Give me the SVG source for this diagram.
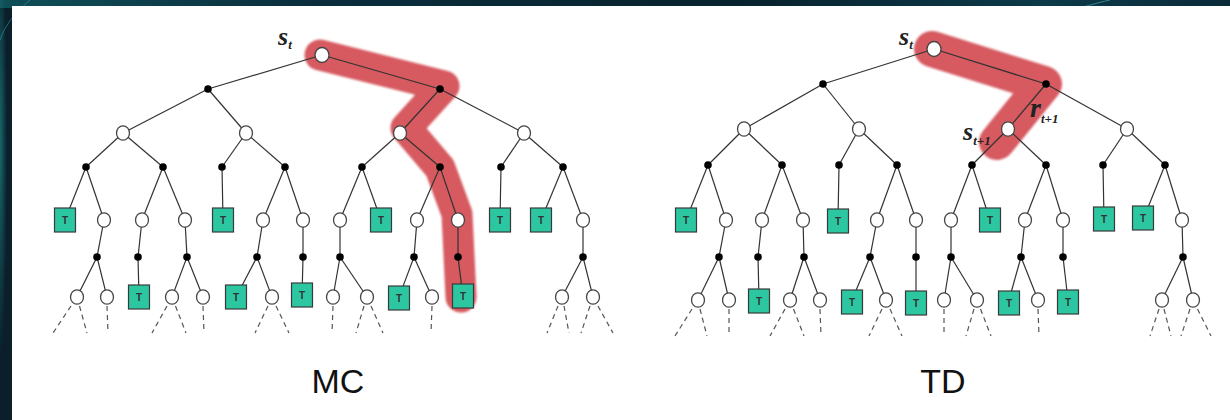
<svg xmlns="http://www.w3.org/2000/svg" width="1230" height="420" viewBox="0 0 1230 420">
<defs>
<linearGradient id="bgTop" x1="0" y1="0" x2="1" y2="0">
<stop offset="0" stop-color="#0f4f58"/>
<stop offset="0.25" stop-color="#0a2e3c"/>
<stop offset="0.6" stop-color="#08212e"/>
<stop offset="0.85" stop-color="#0c3a48"/>
<stop offset="1" stop-color="#0a2a38"/>
</linearGradient>
<radialGradient id="glow" cx="0" cy="0.35" r="0.5">
<stop offset="0" stop-color="#1b7a80" stop-opacity="0.8"/>
<stop offset="1" stop-color="#1b7a80" stop-opacity="0"/>
</radialGradient>
<filter id="soft" x="-10%" y="-10%" width="120%" height="120%"><feGaussianBlur stdDeviation="0.9"/></filter>
<style>
.e{stroke:#333;stroke-width:1.2;fill:none}
.d{stroke:#555;stroke-width:1.2;stroke-dasharray:5 4;fill:none}
.w{fill:#fff;stroke:#444;stroke-width:1.3}
.b{fill:#000}
.t{fill:#2cc7a1;stroke:#3a3a3a;stroke-width:1.2}
.tt{font-family:"Liberation Sans",Arial,sans-serif;font-size:10px;font-weight:bold;fill:#333;text-anchor:middle}
.hl{fill:none;stroke:#d65a60;stroke-linecap:round;stroke-linejoin:round}
.lab{font-family:"Liberation Serif","Times New Roman",serif;font-style:italic;font-weight:bold;fill:#222}
.cap{font-family:"Liberation Sans",Arial,sans-serif;font-size:34px;fill:#111;text-anchor:middle}
</style>
</defs>
<rect width="1230" height="420" fill="#0a1f2a"/>
<rect width="1230" height="8" fill="url(#bgTop)"/>
<rect width="14" height="420" fill="url(#glow)"/>
<path d="M0,40 Q6,20 30,0" stroke="#3fb7c0" stroke-width="0.8" fill="none" opacity="0.6"/>
<path d="M1080,8 Q1100,2 1110,0" stroke="#4fc3cc" stroke-width="0.8" fill="none" opacity="0.7"/>
<rect x="12" y="6" width="1218" height="414" fill="#fff"/>

<g id="highlights" filter="url(#soft)">
<path class="hl" stroke-width="31" d="M320,55 L444,86 L406,128 L440,168 L457,214 L461,297"/>
<path class="hl" stroke-width="36" d="M932,49 L1044,84 L997,142"/>
</g>

<g id="connectors">
<g id="mc-edges">
<line class="e" x1="322" y1="55" x2="208" y2="89"/><line class="e" x1="322" y1="55" x2="440" y2="89"/>
<line class="e" x1="208" y1="89" x2="123" y2="133"/><line class="e" x1="208" y1="89" x2="246" y2="133"/>
<line class="e" x1="440" y1="89" x2="400" y2="133"/><line class="e" x1="440" y1="89" x2="524" y2="133"/>
<line class="e" x1="123" y1="133" x2="86" y2="167"/><line class="e" x1="123" y1="133" x2="163" y2="167"/>
<line class="e" x1="246" y1="133" x2="222" y2="167"/><line class="e" x1="246" y1="133" x2="285" y2="167"/>
<line class="e" x1="400" y1="133" x2="362" y2="167"/><line class="e" x1="400" y1="133" x2="440" y2="167"/>
<line class="e" x1="524" y1="133" x2="501" y2="167"/><line class="e" x1="524" y1="133" x2="563" y2="167"/>
<line class="e" x1="86" y1="167" x2="65" y2="220"/><line class="e" x1="86" y1="167" x2="104" y2="220"/>
<line class="e" x1="163" y1="167" x2="142" y2="220"/><line class="e" x1="163" y1="167" x2="185" y2="220"/>
<line class="e" x1="222" y1="167" x2="223" y2="220"/>
<line class="e" x1="285" y1="167" x2="263" y2="220"/><line class="e" x1="285" y1="167" x2="303" y2="220"/>
<line class="e" x1="362" y1="167" x2="340" y2="220"/><line class="e" x1="362" y1="167" x2="381" y2="220"/>
<line class="e" x1="440" y1="167" x2="417" y2="220"/><line class="e" x1="440" y1="167" x2="458" y2="220"/>
<line class="e" x1="501" y1="167" x2="500" y2="220"/>
<line class="e" x1="563" y1="167" x2="541" y2="220"/><line class="e" x1="563" y1="167" x2="583" y2="220"/>
<line class="e" x1="104" y1="220" x2="97" y2="257"/><line class="e" x1="142" y1="220" x2="138" y2="257"/>
<line class="e" x1="185" y1="220" x2="187" y2="257"/><line class="e" x1="263" y1="220" x2="257" y2="257"/>
<line class="e" x1="303" y1="220" x2="303" y2="257"/><line class="e" x1="340" y1="220" x2="340" y2="257"/>
<line class="e" x1="417" y1="220" x2="414" y2="257"/><line class="e" x1="458" y1="220" x2="458" y2="257"/>
<line class="e" x1="583" y1="220" x2="583" y2="257"/>
<line class="e" x1="97" y1="257" x2="77" y2="297"/><line class="e" x1="97" y1="257" x2="107" y2="297"/>
<line class="e" x1="138" y1="257" x2="139" y2="297"/>
<line class="e" x1="187" y1="257" x2="172" y2="297"/><line class="e" x1="187" y1="257" x2="203" y2="297"/>
<line class="e" x1="257" y1="257" x2="236" y2="297"/><line class="e" x1="257" y1="257" x2="272" y2="297"/>
<line class="e" x1="303" y1="257" x2="302" y2="297"/>
<line class="e" x1="340" y1="257" x2="333" y2="297"/><line class="e" x1="340" y1="257" x2="367" y2="297"/>
<line class="e" x1="414" y1="257" x2="399" y2="297"/><line class="e" x1="414" y1="257" x2="432" y2="297"/>
<line class="e" x1="458" y1="257" x2="463" y2="297"/>
<line class="e" x1="583" y1="257" x2="562" y2="297"/><line class="e" x1="583" y1="257" x2="593" y2="297"/>
<line class="d" x1="71" y1="306" x2="53" y2="333"/><line class="d" x1="79.5" y1="306" x2="87" y2="333"/>
<line class="d" x1="107" y1="306" x2="108" y2="333"/>
<line class="d" x1="167" y1="306" x2="152" y2="333"/><line class="d" x1="175.5" y1="306" x2="186" y2="333"/>
<line class="d" x1="203" y1="306" x2="204" y2="333"/>
<line class="d" x1="268" y1="306" x2="255" y2="333"/><line class="d" x1="276" y1="306" x2="289" y2="333"/>
<line class="d" x1="333" y1="306" x2="332" y2="333"/>
<line class="d" x1="364" y1="306" x2="356" y2="333"/><line class="d" x1="371" y1="306" x2="383" y2="333"/>
<line class="d" x1="432" y1="306" x2="431" y2="333"/>
<line class="d" x1="558" y1="306" x2="547" y2="333"/><line class="d" x1="564" y1="306" x2="569" y2="333"/>
<line class="d" x1="590" y1="306" x2="581" y2="333"/><line class="d" x1="598" y1="306" x2="613" y2="333"/>
</g>
<g id="td-edges">
<line class="e" x1="934" y1="49" x2="823" y2="84"/><line class="e" x1="934" y1="49" x2="1046" y2="84"/>
<line class="e" x1="823" y1="84" x2="744" y2="129"/><line class="e" x1="823" y1="84" x2="859" y2="129"/>
<line class="e" x1="1046" y1="84" x2="1008" y2="129"/><line class="e" x1="1046" y1="84" x2="1127" y2="129"/>
<line class="e" x1="744" y1="129" x2="708" y2="165"/><line class="e" x1="744" y1="129" x2="782" y2="165"/>
<line class="e" x1="859" y1="129" x2="839" y2="165"/><line class="e" x1="859" y1="129" x2="897" y2="165"/>
<line class="e" x1="1008" y1="129" x2="972" y2="165"/><line class="e" x1="1008" y1="129" x2="1046" y2="165"/>
<line class="e" x1="1127" y1="129" x2="1103" y2="165"/><line class="e" x1="1127" y1="129" x2="1165" y2="165"/>
<line class="e" x1="708" y1="165" x2="686" y2="220"/><line class="e" x1="708" y1="165" x2="726" y2="220"/>
<line class="e" x1="782" y1="165" x2="762" y2="220"/><line class="e" x1="782" y1="165" x2="803" y2="220"/>
<line class="e" x1="839" y1="165" x2="838" y2="220"/>
<line class="e" x1="897" y1="165" x2="877" y2="220"/><line class="e" x1="897" y1="165" x2="916" y2="220"/>
<line class="e" x1="972" y1="165" x2="951" y2="220"/><line class="e" x1="972" y1="165" x2="990" y2="220"/>
<line class="e" x1="1046" y1="165" x2="1025" y2="220"/><line class="e" x1="1046" y1="165" x2="1063" y2="220"/>
<line class="e" x1="1103" y1="165" x2="1104" y2="220"/>
<line class="e" x1="1165" y1="165" x2="1143" y2="220"/><line class="e" x1="1165" y1="165" x2="1182" y2="220"/>
<line class="e" x1="726" y1="220" x2="719" y2="257"/><line class="e" x1="762" y1="220" x2="758" y2="257"/>
<line class="e" x1="803" y1="220" x2="804" y2="257"/><line class="e" x1="877" y1="220" x2="870" y2="257"/>
<line class="e" x1="916" y1="220" x2="916" y2="257"/><line class="e" x1="951" y1="220" x2="951" y2="257"/>
<line class="e" x1="1025" y1="220" x2="1021" y2="257"/><line class="e" x1="1063" y1="220" x2="1063" y2="257"/>
<line class="e" x1="1182" y1="220" x2="1183" y2="257"/>
<line class="e" x1="719" y1="257" x2="698" y2="300"/><line class="e" x1="719" y1="257" x2="729" y2="300"/>
<line class="e" x1="758" y1="257" x2="759" y2="300"/>
<line class="e" x1="804" y1="257" x2="790" y2="300"/><line class="e" x1="804" y1="257" x2="820" y2="300"/>
<line class="e" x1="870" y1="257" x2="852" y2="300"/><line class="e" x1="870" y1="257" x2="886" y2="300"/>
<line class="e" x1="916" y1="257" x2="916" y2="300"/>
<line class="e" x1="951" y1="257" x2="944" y2="300"/><line class="e" x1="951" y1="257" x2="977" y2="300"/>
<line class="e" x1="1021" y1="257" x2="1009" y2="300"/><line class="e" x1="1021" y1="257" x2="1038" y2="300"/>
<line class="e" x1="1063" y1="257" x2="1068" y2="300"/>
<line class="e" x1="1183" y1="257" x2="1162" y2="300"/><line class="e" x1="1183" y1="257" x2="1193" y2="300"/>
<line class="d" x1="692" y1="309" x2="675" y2="336"/><line class="d" x1="700" y1="309" x2="707" y2="336"/>
<line class="d" x1="729" y1="309" x2="729" y2="336"/>
<line class="d" x1="785" y1="309" x2="770" y2="336"/><line class="d" x1="793.5" y1="309" x2="804" y2="336"/>
<line class="d" x1="820" y1="309" x2="821" y2="336"/>
<line class="d" x1="882" y1="309" x2="869" y2="336"/><line class="d" x1="890" y1="309" x2="902" y2="336"/>
<line class="d" x1="944" y1="309" x2="944" y2="336"/>
<line class="d" x1="974" y1="309" x2="966" y2="336"/><line class="d" x1="980.5" y1="309" x2="991" y2="336"/>
<line class="d" x1="1038" y1="309" x2="1039" y2="336"/>
<line class="d" x1="1159" y1="309" x2="1150" y2="336"/><line class="d" x1="1164" y1="309" x2="1171" y2="336"/>
<line class="d" x1="1190" y1="309" x2="1181" y2="336"/><line class="d" x1="1197.5" y1="309" x2="1211" y2="336"/>
</g>
</g>

<g id="mc-nodes">
<g id="mc-root"><ellipse class="w" cx="322" cy="55" rx="7" ry="7.5"/></g>
<g id="mc-a1"><circle class="b" cx="208" cy="89" r="3.8"/></g>
<g id="mc-a2"><circle class="b" cx="440" cy="89" r="3.8"/></g>
<g id="mc-s1"><ellipse class="w" cx="123" cy="133" rx="6.5" ry="7.2"/></g>
<g id="mc-s2"><ellipse class="w" cx="246" cy="133" rx="6.5" ry="7.2"/></g>
<g id="mc-s3"><ellipse class="w" cx="400" cy="133" rx="6.5" ry="7.2"/></g>
<g id="mc-s4"><ellipse class="w" cx="524" cy="133" rx="6.5" ry="7.2"/></g>
<g id="mc-b1"><circle class="b" cx="86" cy="167" r="3.8"/></g>
<g id="mc-b2"><circle class="b" cx="163" cy="167" r="3.8"/></g>
<g id="mc-b3"><circle class="b" cx="222" cy="167" r="3.8"/></g>
<g id="mc-b4"><circle class="b" cx="285" cy="167" r="3.8"/></g>
<g id="mc-b5"><circle class="b" cx="362" cy="167" r="3.8"/></g>
<g id="mc-b6"><circle class="b" cx="440" cy="167" r="3.8"/></g>
<g id="mc-b7"><circle class="b" cx="501" cy="167" r="3.8"/></g>
<g id="mc-b8"><circle class="b" cx="563" cy="167" r="3.8"/></g>
<g id="mc-c1"><rect class="t" x="54.5" y="208" width="21" height="24"/><text class="tt" x="65" y="224">T</text></g>
<g id="mc-c2"><ellipse class="w" cx="104" cy="220" rx="6.5" ry="7.2"/></g>
<g id="mc-c3"><ellipse class="w" cx="142" cy="220" rx="6.5" ry="7.2"/></g>
<g id="mc-c4"><ellipse class="w" cx="185" cy="220" rx="6.5" ry="7.2"/></g>
<g id="mc-c5"><rect class="t" x="212.5" y="208" width="21" height="24"/><text class="tt" x="223" y="224">T</text></g>
<g id="mc-c6"><ellipse class="w" cx="263" cy="220" rx="6.5" ry="7.2"/></g>
<g id="mc-c7"><ellipse class="w" cx="303" cy="220" rx="6.5" ry="7.2"/></g>
<g id="mc-c8"><ellipse class="w" cx="340" cy="220" rx="6.5" ry="7.2"/></g>
<g id="mc-c9"><rect class="t" x="370.5" y="208" width="21" height="24"/><text class="tt" x="381" y="224">T</text></g>
<g id="mc-c10"><ellipse class="w" cx="417" cy="220" rx="6.5" ry="7.2"/></g>
<g id="mc-c11"><ellipse class="w" cx="458" cy="220" rx="6.5" ry="7.2"/></g>
<g id="mc-c12"><rect class="t" x="489.5" y="208" width="21" height="24"/><text class="tt" x="500" y="224">T</text></g>
<g id="mc-c13"><rect class="t" x="530.5" y="208" width="21" height="24"/><text class="tt" x="541" y="224">T</text></g>
<g id="mc-c14"><ellipse class="w" cx="583" cy="220" rx="6.5" ry="7.2"/></g>
<g id="mc-d1"><circle class="b" cx="97" cy="257" r="3.8"/></g>
<g id="mc-d2"><circle class="b" cx="138" cy="257" r="3.8"/></g>
<g id="mc-d3"><circle class="b" cx="187" cy="257" r="3.8"/></g>
<g id="mc-d4"><circle class="b" cx="257" cy="257" r="3.8"/></g>
<g id="mc-d5"><circle class="b" cx="303" cy="257" r="3.8"/></g>
<g id="mc-d6"><circle class="b" cx="340" cy="257" r="3.8"/></g>
<g id="mc-d7"><circle class="b" cx="414" cy="257" r="3.8"/></g>
<g id="mc-d8"><circle class="b" cx="458" cy="257" r="3.8"/></g>
<g id="mc-d9"><circle class="b" cx="583" cy="257" r="3.8"/></g>
<g id="mc-e1"><ellipse class="w" cx="77" cy="297" rx="6.5" ry="7.2"/></g>
<g id="mc-e2"><ellipse class="w" cx="107" cy="297" rx="6.5" ry="7.2"/></g>
<g id="mc-e3"><rect class="t" x="128.5" y="285" width="21" height="24"/><text class="tt" x="139" y="301">T</text></g>
<g id="mc-e4"><ellipse class="w" cx="172" cy="297" rx="6.5" ry="7.2"/></g>
<g id="mc-e5"><ellipse class="w" cx="203" cy="297" rx="6.5" ry="7.2"/></g>
<g id="mc-e6"><rect class="t" x="225.5" y="285" width="21" height="24"/><text class="tt" x="236" y="301">T</text></g>
<g id="mc-e7"><ellipse class="w" cx="272" cy="297" rx="6.5" ry="7.2"/></g>
<g id="mc-e8"><rect class="t" x="291.5" y="283" width="21" height="24"/><text class="tt" x="302" y="299">T</text></g>
<g id="mc-e9"><ellipse class="w" cx="333" cy="297" rx="6.5" ry="7.2"/></g>
<g id="mc-e10"><ellipse class="w" cx="367" cy="297" rx="6.5" ry="7.2"/></g>
<g id="mc-e11"><rect class="t" x="388.5" y="286" width="21" height="24"/><text class="tt" x="399" y="302">T</text></g>
<g id="mc-e12"><ellipse class="w" cx="432" cy="297" rx="6.5" ry="7.2"/></g>
<g id="mc-e13"><rect class="t" x="452.5" y="284" width="21" height="24"/><text class="tt" x="463" y="300">T</text></g>
<g id="mc-e14"><ellipse class="w" cx="562" cy="297" rx="6.5" ry="7.2"/></g>
<g id="mc-e15"><ellipse class="w" cx="593" cy="297" rx="6.5" ry="7.2"/></g>
</g>

<g id="td-nodes">
<g id="td-root"><ellipse class="w" cx="934" cy="49" rx="7" ry="7.5"/></g>
<g id="td-a1"><circle class="b" cx="823" cy="84" r="3.8"/></g>
<g id="td-a2"><circle class="b" cx="1046" cy="84" r="3.8"/></g>
<g id="td-s1"><ellipse class="w" cx="744" cy="129" rx="6.5" ry="7.2"/></g>
<g id="td-s2"><ellipse class="w" cx="859" cy="129" rx="6.5" ry="7.2"/></g>
<g id="td-s3"><ellipse class="w" cx="1008" cy="129" rx="6.5" ry="7.2"/></g>
<g id="td-s4"><ellipse class="w" cx="1127" cy="129" rx="6.5" ry="7.2"/></g>
<g id="td-b1"><circle class="b" cx="708" cy="165" r="3.8"/></g>
<g id="td-b2"><circle class="b" cx="782" cy="165" r="3.8"/></g>
<g id="td-b3"><circle class="b" cx="839" cy="165" r="3.8"/></g>
<g id="td-b4"><circle class="b" cx="897" cy="165" r="3.8"/></g>
<g id="td-b5"><circle class="b" cx="972" cy="165" r="3.8"/></g>
<g id="td-b6"><circle class="b" cx="1046" cy="165" r="3.8"/></g>
<g id="td-b7"><circle class="b" cx="1103" cy="165" r="3.8"/></g>
<g id="td-b8"><circle class="b" cx="1165" cy="165" r="3.8"/></g>
<g id="td-c1"><rect class="t" x="675.5" y="208" width="21" height="24"/><text class="tt" x="686" y="224">T</text></g>
<g id="td-c2"><ellipse class="w" cx="726" cy="220" rx="6.5" ry="7.2"/></g>
<g id="td-c3"><ellipse class="w" cx="762" cy="220" rx="6.5" ry="7.2"/></g>
<g id="td-c4"><ellipse class="w" cx="803" cy="220" rx="6.5" ry="7.2"/></g>
<g id="td-c5"><rect class="t" x="827.5" y="209" width="21" height="24"/><text class="tt" x="838" y="225">T</text></g>
<g id="td-c6"><ellipse class="w" cx="877" cy="220" rx="6.5" ry="7.2"/></g>
<g id="td-c7"><ellipse class="w" cx="916" cy="220" rx="6.5" ry="7.2"/></g>
<g id="td-c8"><ellipse class="w" cx="951" cy="220" rx="6.5" ry="7.2"/></g>
<g id="td-c9"><rect class="t" x="979.5" y="208" width="21" height="24"/><text class="tt" x="990" y="224">T</text></g>
<g id="td-c10"><ellipse class="w" cx="1025" cy="220" rx="6.5" ry="7.2"/></g>
<g id="td-c11"><ellipse class="w" cx="1063" cy="220" rx="6.5" ry="7.2"/></g>
<g id="td-c12"><rect class="t" x="1093.5" y="207" width="21" height="24"/><text class="tt" x="1104" y="223">T</text></g>
<g id="td-c13"><rect class="t" x="1132.5" y="206" width="21" height="24"/><text class="tt" x="1143" y="222">T</text></g>
<g id="td-c14"><ellipse class="w" cx="1182" cy="220" rx="6.5" ry="7.2"/></g>
<g id="td-d1"><circle class="b" cx="719" cy="257" r="3.8"/></g>
<g id="td-d2"><circle class="b" cx="758" cy="257" r="3.8"/></g>
<g id="td-d3"><circle class="b" cx="804" cy="257" r="3.8"/></g>
<g id="td-d4"><circle class="b" cx="870" cy="257" r="3.8"/></g>
<g id="td-d5"><circle class="b" cx="916" cy="257" r="3.8"/></g>
<g id="td-d6"><circle class="b" cx="951" cy="257" r="3.8"/></g>
<g id="td-d7"><circle class="b" cx="1021" cy="257" r="3.8"/></g>
<g id="td-d8"><circle class="b" cx="1063" cy="257" r="3.8"/></g>
<g id="td-d9"><circle class="b" cx="1183" cy="257" r="3.8"/></g>
<g id="td-e1"><ellipse class="w" cx="698" cy="300" rx="6.5" ry="7.2"/></g>
<g id="td-e2"><ellipse class="w" cx="729" cy="300" rx="6.5" ry="7.2"/></g>
<g id="td-e3"><rect class="t" x="748.5" y="289" width="21" height="24"/><text class="tt" x="759" y="305">T</text></g>
<g id="td-e4"><ellipse class="w" cx="790" cy="300" rx="6.5" ry="7.2"/></g>
<g id="td-e5"><ellipse class="w" cx="820" cy="300" rx="6.5" ry="7.2"/></g>
<g id="td-e6"><rect class="t" x="841.5" y="290" width="21" height="24"/><text class="tt" x="852" y="306">T</text></g>
<g id="td-e7"><ellipse class="w" cx="886" cy="300" rx="6.5" ry="7.2"/></g>
<g id="td-e8"><rect class="t" x="905.5" y="291" width="21" height="24"/><text class="tt" x="916" y="307">T</text></g>
<g id="td-e9"><ellipse class="w" cx="944" cy="300" rx="6.5" ry="7.2"/></g>
<g id="td-e10"><ellipse class="w" cx="977" cy="300" rx="6.5" ry="7.2"/></g>
<g id="td-e11"><rect class="t" x="998.5" y="291" width="21" height="24"/><text class="tt" x="1009" y="307">T</text></g>
<g id="td-e12"><ellipse class="w" cx="1038" cy="300" rx="6.5" ry="7.2"/></g>
<g id="td-e13"><rect class="t" x="1057.5" y="290" width="21" height="24"/><text class="tt" x="1068" y="306">T</text></g>
<g id="td-e14"><ellipse class="w" cx="1162" cy="300" rx="6.5" ry="7.2"/></g>
<g id="td-e15"><ellipse class="w" cx="1193" cy="300" rx="6.5" ry="7.2"/></g>
</g>

<g id="labels">
<text class="lab" x="278" y="45" font-size="26">s<tspan font-size="13" dy="4">t</tspan></text>
<text class="lab" x="899" y="45" font-size="26">s<tspan font-size="13" dy="4">t</tspan></text>
<text class="lab" x="1030" y="117" font-size="28">r<tspan font-size="13" dy="6">t+1</tspan></text>
<text class="lab" x="963" y="140" font-size="26">s<tspan font-size="13" dy="5">t+1</tspan></text>
<text class="cap" x="338" y="393">MC</text>
<text class="cap" x="943" y="393">TD</text>
</g>
</svg>
